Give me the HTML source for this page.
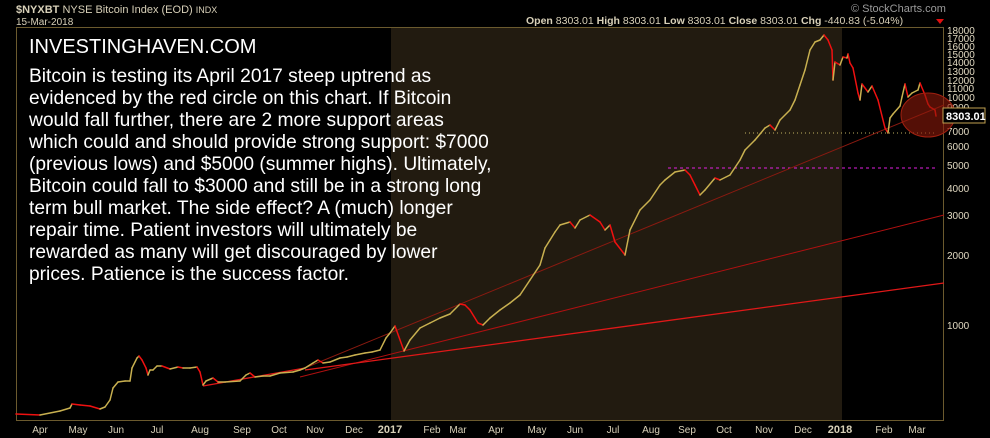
<!DOCTYPE html><html><head><style>
body{margin:0;background:#000;width:990px;height:438px;overflow:hidden;font-family:"Liberation Sans",sans-serif}
.t{position:absolute;color:#fff;white-space:nowrap}
</style></head><body>
<svg width="990" height="438" style="position:absolute;left:0;top:0" font-family="Liberation Sans, sans-serif">
<rect x="391" y="28" width="451" height="393" fill="#221b10"/>
<rect x="16.5" y="27.5" width="927" height="393" fill="none" stroke="#6b5a2e"/>
<text x="16" y="13" fill="#d8d0b8" font-size="11"><tspan font-weight="bold">$NYXBT</tspan> NYSE Bitcoin Index (EOD) <tspan font-size="9">INDX</tspan></text>
<text x="16" y="25" fill="#d8d0b8" font-size="10">15-Mar-2018</text>
<text x="851" y="12" fill="#9a9a9a" font-size="11">© StockCharts.com</text>
<text x="526" y="24" fill="#d8d0b8" font-size="10.5"><tspan font-weight="bold">Open</tspan> 8303.01 <tspan font-weight="bold">High</tspan> 8303.01 <tspan font-weight="bold">Low</tspan> 8303.01 <tspan font-weight="bold">Close</tspan> 8303.01 <tspan font-weight="bold">Chg</tspan> -440.83 (-5.04%)</text>
<polygon points="936,19 944,19 940,24" fill="#e01010"/>
<g fill="#e0d8c0" font-size="10">
<text x="947" y="34">18000</text><text x="947" y="42">17000</text><text x="947" y="50">16000</text><text x="947" y="58">15000</text><text x="947" y="66">14000</text><text x="947" y="75">13000</text><text x="947" y="84">12000</text><text x="947" y="92">11000</text><text x="947" y="101">10000</text><text x="947" y="111">9000</text><text x="947" y="135">7000</text><text x="947" y="150">6000</text><text x="947" y="169">5000</text><text x="947" y="192">4000</text><text x="947" y="219">3000</text><text x="947" y="259">2000</text><text x="947" y="329">1000</text>
</g>
<g fill="#d8d0b8" font-size="10" text-anchor="middle">
<text x="40" y="433">Apr</text><text x="78" y="433">May</text><text x="116" y="433">Jun</text><text x="157" y="433">Jul</text><text x="200" y="433">Aug</text><text x="242" y="433">Sep</text><text x="279" y="433">Oct</text><text x="315" y="433">Nov</text><text x="354" y="433">Dec</text><text x="390" y="433" font-weight="bold" font-size="11">2017</text><text x="432" y="433">Feb</text><text x="458" y="433">Mar</text><text x="496" y="433">Apr</text><text x="537" y="433">May</text><text x="575" y="433">Jun</text><text x="613" y="433">Jul</text><text x="651" y="433">Aug</text><text x="687" y="433">Sep</text><text x="724" y="433">Oct</text><text x="764" y="433">Nov</text><text x="803" y="433">Dec</text><text x="840" y="433" font-weight="bold" font-size="11">2018</text><text x="884" y="433">Feb</text><text x="917" y="433">Mar</text>
</g>
<line x1="668" y1="168" x2="935" y2="168" stroke="#e020e0" stroke-dasharray="3,3"/>
<line x1="745" y1="133" x2="935" y2="133" stroke="#c0b060" stroke-dasharray="1,3"/>
<line x1="300" y1="370" x2="944" y2="105" stroke="#8a1a10" stroke-width="1"/>
<line x1="300" y1="377" x2="944" y2="215" stroke="#b01010" stroke-width="1"/>
<line x1="305" y1="370" x2="944" y2="283" stroke="#e01818" stroke-width="1.3"/>
<line x1="203" y1="386" x2="305" y2="368" stroke="#e01818" stroke-width="1.3"/>
<g id="p"></g>
<ellipse cx="928" cy="115" rx="27" ry="22" fill="rgba(140,25,10,0.6)" stroke="#a02010"/>
<rect x="943" y="108" width="42" height="15" fill="#000" stroke="#c0a050"/>
<text x="946" y="120" fill="#fff" font-size="11" font-weight="bold">8303.01</text>
</svg>
<div class="t" style="left:29px;top:36px;font-size:20px">INVESTINGHAVEN.COM</div>
<div class="t" style="left:29px;top:66px;font-size:19.2px;line-height:22px">Bitcoin is testing its April 2017 steep uptrend as<br>evidenced by the red circle on this chart. If Bitcoin<br>would fall further, there are 2 more support areas<br>which could and should provide strong support: $7000<br>(previous lows) and $5000 (summer highs). Ultimately,<br>Bitcoin could fall to $3000 and still be in a strong long<br>term bull market. The side effect? A (much) longer<br>repair time. Patient investors will ultimately be<br>rewarded as many will get discouraged by lower<br>prices. Patience is the success factor.</div>
<script>
var d=[16,414,40,415,60,411,70,408,72,404,80,405,90,406,100,409,105,407,110,400,113,388,118,382,125,381,130,381,132,368,137,358,139,356,142,360,146,368,148,375,150,370,153,370,157,366,162,366,170,369,178,367,183,368,190,368,197,367,200,372,203,385,206,381,213,378,218,382,225,382,240,381,246,375,250,373,255,377,263,376,270,376,280,373,293,372,300,370,305,368,313,363,318,360,323,363,330,362,340,358,347,357,355,355,365,353,372,352,380,350,386,338,390,333,395,326,404,351,410,340,420,328,430,323,440,318,450,314,460,304,465,305,470,310,478,323,483,325,490,318,500,310,510,303,520,295,530,280,540,265,545,248,550,240,555,232,560,225,570,222,575,228,580,220,590,215,600,222,605,230,610,225,615,242,625,255,630,230,640,210,650,200,660,185,665,180,675,172,685,170,690,175,695,185,700,195,705,190,715,178,720,180,730,175,740,160,745,150,755,140,765,128,770,125,775,130,780,120,790,110,795,100,800,85,805,70,810,50,815,42,820,40,824,35,828,40,832,50,833,80,835,62,840,65,843,57,847,58,848,54,850,63,853,68,858,93,860,100,862,84,868,92,872,86,878,100,885,128,888,133,890,118,893,114,900,106,902,97,905,84,908,97,912,93,918,90,920,83,925,95,928,104,930,107,935,110,936,116];
var s='';for(var i=0;i<d.length-2;i+=2){s+='<line x1="'+d[i]+'" y1="'+d[i+1]+'" x2="'+d[i+2]+'" y2="'+d[i+3]+'" stroke="'+(d[i+3]>d[i+1]?'#f01010':'#c8b050')+'" stroke-width="1.5" stroke-linecap="round"/>';}
document.getElementById('p').innerHTML=s;
</script>
</body></html>
